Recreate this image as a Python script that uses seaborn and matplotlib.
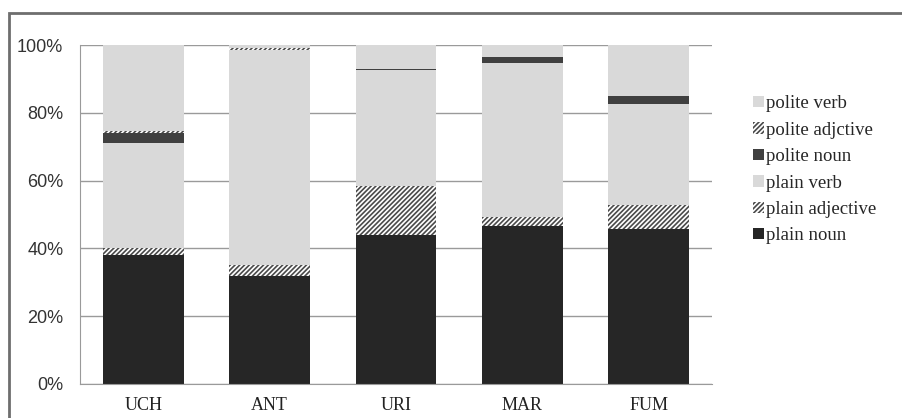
import numpy as np
import pandas as pd

import seaborn as sns
import matplotlib.pyplot as plt
from matplotlib.patches import Patch, Rectangle


# data (percent per speaker), layers listed from bottom to top
speakers = ["UCH", "ANT", "URI", "MAR", "FUM"]
plain_noun = [38.0, 32.0, 44.1, 46.6, 45.6]
plain_adjective = [2.0, 3.2, 14.2, 2.7, 7.3]
plain_verb = [31.0, 63.3, 34.3, 45.3, 29.7]
polite_noun = [3.0, 0.0, 0.4, 1.8, 2.4]
polite_adjective = [0.6, 0.6, 0.0, 0.0, 0.0]
polite_verb = [25.4, 0.9, 7.0, 3.6, 15.0]

layers = ["plain noun", "plain adjective", "plain verb",
          "polite noun", "polite adjctive", "polite verb"]

df = pd.DataFrame({
    "plain noun": plain_noun,
    "plain adjective": plain_adjective,
    "plain verb": plain_verb,
    "polite noun": polite_noun,
    "polite adjctive": polite_adjective,
    "polite verb": polite_verb,
}, index=speakers)
cum = df.cumsum(axis=1)

styles = {
    "plain noun": dict(color="#262626", hatch=None),
    "plain adjective": dict(color="white", hatch="///////"),
    "plain verb": dict(color="#d9d9d9", hatch=None),
    "polite noun": dict(color="#404040", hatch=None),
    "polite adjctive": dict(color="white", hatch="///////"),
    "polite verb": dict(color="#d9d9d9", hatch=None),
}

sns.set_style("white")
plt.rcParams["hatch.linewidth"] = 1.2
serif = ["Liberation Serif", "DejaVu Serif"]

fig = plt.figure(figsize=(9.03, 4.18), dpi=100)
ax = fig.add_axes([80 / 903, 1 - 384 / 418, 632 / 903, 339 / 418])

# overlay cumulative bars, tallest first
for name in layers[::-1]:
    st = styles[name]
    sns.barplot(x=speakers, y=cum[name].values, order=speakers,
                color=st["color"], saturation=1, width=0.64,
                hatch=st["hatch"], edgecolor="#4a4a4a", linewidth=0,
                ax=ax, zorder=2)

ax.set_ylim(0, 100)
ax.set_xlim(-0.5, 4.5)
ax.set_yticks(np.arange(0, 101, 20))
ax.set_yticklabels([f"{v}%" for v in range(0, 101, 20)],
                   family=["Liberation Sans", "DejaVu Sans"], fontsize=13,
                   color="#333333")
ax.set_xticklabels(speakers, family=serif, fontsize=13, color="#222222")
ax.tick_params(axis="both", length=0, pad=12)
ax.tick_params(axis="x", pad=9)
ax.yaxis.grid(True, color="#9a9a9a", linewidth=1.0, zorder=0)
ax.set_axisbelow(True)
for side in ["top", "right"]:
    ax.spines[side].set_visible(False)
ax.spines["left"].set_color("#9a9a9a")
ax.spines["bottom"].set_color("#9a9a9a")
ax.set_xlabel("")
ax.set_ylabel("")

# legend, top layer first
handles = [Patch(facecolor=styles[n]["color"], hatch=styles[n]["hatch"],
                 edgecolor="#4a4a4a", linewidth=0, label=n)
           for n in layers[::-1]]
fig.legend(handles=handles, loc="upper left",
           bbox_to_anchor=(744 / 903, 1 - 86 / 418), frameon=False,
           prop={"family": serif, "size": 13.5}, handlelength=0.55,
           handleheight=0.55, handletextpad=0.15, labelspacing=0.5,
           borderpad=0)

# chart-area border (only top and left visible in crop)
fig.patches.append(Rectangle((9 / 903, -0.1), 1.2, 1.1 - 13 / 418,
                             transform=fig.transFigure, fill=False,
                             edgecolor="#6e6e6e", linewidth=2))

fig.savefig("out.png", dpi=100)
